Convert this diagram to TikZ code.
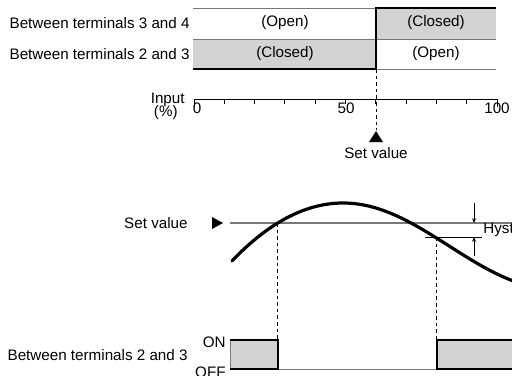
\documentclass[tikz,border=0pt]{standalone}
\usepackage{fontspec}
\setmainfont{Liberation Sans}
\usetikzlibrary{arrows.meta}
\definecolor{relaygray}{RGB}{210,211,213}
\definecolor{thingray}{RGB}{120,120,120}

\begin{document}
\begin{tikzpicture}[
    x=0.5pt, y=-0.5pt,
    every node/.style={font=\fontsize{7.6}{9}\selectfont, inner sep=0pt},
    thinln/.style={draw=thingray, line width=0.5pt},
    thickln/.style={draw=black, line width=1.3pt},
    setln/.style={draw=thingray, line width=0.6pt},
    dashln/.style={draw=black, line width=0.5pt, dash pattern=on 1.8pt off 1.5pt},
    curveln/.style={draw=black, line width=1.6pt, line cap=round},
    hystarrow/.style={-{Stealth[length=2.4pt,width=2pt]}, line width=0.45pt},
    rowlabel/.style={anchor=east},
]
\useasboundingbox (0,0) rectangle (512,375);
\clip (0,0) rectangle (512,375);

% ====== TOP: contact state against input ======
\fill[relaygray] (376,8) rectangle (496,39);
\fill[relaygray] (193,39) rectangle (376,69);
\draw[thinln] (193,8) -- (376,8);
\draw[thinln] (193,39) -- (496,39);
\draw[thinln] (376,69) -- (496,69);
\draw[thickln] (496,8) -- (376,8) -- (376,69) -- (193,69);

\node[rowlabel] (row34) at (190,23) {Between terminals 3 and 4};
\node[rowlabel] (row23) at (190,54) {Between terminals 2 and 3};
\node (open34)   at (285,23) {(Open)};
\node (closed34) at (436,23) {(Closed)};
\node (closed23) at (285,54) {(Closed)};
\node (open23)   at (436,54) {(Open)};

% Input scale
\draw[thinln, draw=black] (194,99) -- (497,99);
\foreach \i in {1,...,9}
    \draw[thinln, draw=black] (194+30.3*\i,99) -- (194+30.3*\i,104);
\draw[thinln, draw=black] (194,99) -- (194,107);
\draw[thinln, draw=black] (497,99) -- (497,107);
\node[anchor=east] (inlbl) at (185,100) {Input};
\node[anchor=east] (pclbl) at (178,113) {(\%)};
\node (t0)   at (197,108) {0};
\node (t50)  at (346,108) {50};
\node (t100) at (497,108) {100};

% Set value marker on scale
\draw[dashln] (376,69) -- (376,130);
\fill (369,142) -- (383,142) -- (376,131) -- cycle;
\node (sv1) at (376,153) {Set value};

% ====== MIDDLE: process value ======
\node[rowlabel] (svlbl) at (188,223) {Set value};
\fill (212,217) -- (212,229) -- (223,223) -- cycle;
\draw[setln] (230,223) -- (512,223);
\draw[thinln, draw=black] (425,237) -- (482,237);

\draw[curveln] plot[domain=232:343, samples=40] (\x,{203+0.0047*(\x-343)^2})
    -- plot[domain=343:520, samples=60] (\x,{203+43*(1-cos(0.0148*(\x-343) r))});

% Hysteresis
\draw[hystarrow] (474,203) -- (474,223);
\draw[hystarrow] (474,256) -- (474,237);
\node[anchor=west] (hyst) at (483,230) {Hysteresis};

\draw[dashln] (277,223) -- (277,340);
\draw[dashln] (436,237) -- (436,340);

% ====== BOTTOM: output between terminals 2 and 3 ======
\fill[relaygray] (230,340) rectangle (278,369);
\fill[relaygray] (437,340) rectangle (512,369);
\draw[thinln] (230,340) -- (230,369);
\draw[thinln] (278,369) -- (437,369);
\draw[thickln] (230,340) -- (278,340) -- (278,369) -- (230,369);
\draw[thickln] (514,340) -- (437,340) -- (437,369) -- (514,369);

\node[rowlabel] (row23b) at (188,355) {Between terminals 2 and 3};
\node[anchor=east] (onlbl)  at (226,342) {ON};
\node[anchor=east] (offlbl) at (226,372) {OFF};
\end{tikzpicture}
\end{document}
